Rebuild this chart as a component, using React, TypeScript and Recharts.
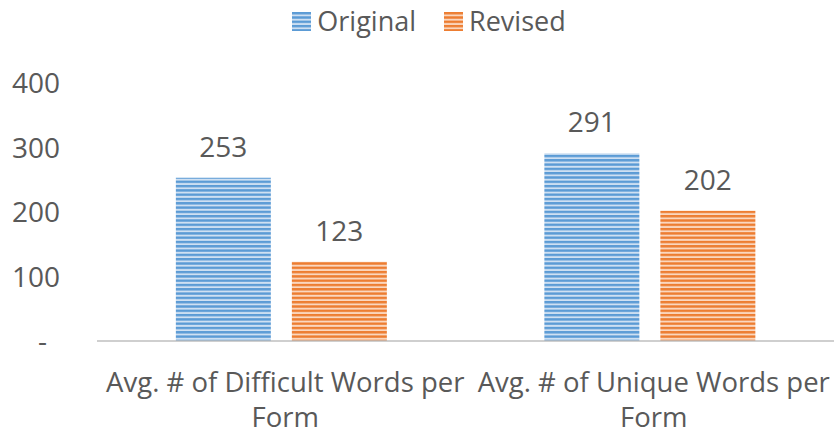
import React from "react";
import { BarChart, Bar, XAxis, YAxis, LabelList } from "recharts";

const categories = ["Avg. # of Difficult Words per Form", "Avg. # of Unique Words per Form"];
const originalValues = [253, 291];
const revisedValues = [123, 202];
const yTicks = [0, 100, 200, 300, 400];

const data = categories.map((name, i) => ({
  name,
  original: originalValues[i],
  revised: revisedValues[i],
}));

const TEXT = "#595959";
const FONT = "'Open Sans', sans-serif";

const YTick = ({ y, payload }: any) => {
  const v = payload.value;
  if (v === 0) {
    return (
      <text x={38} y={y} dy={10} fill={TEXT} fontSize={28} fontFamily={FONT}>
        -
      </text>
    );
  }
  return (
    <text x={12} y={y} dy={10} fill={TEXT} fontSize={28} fontFamily={FONT}>
      {v}
    </text>
  );
};

const XTick = ({ x, y, payload }: any) => {
  const words = String(payload.value).split(" ");
  const first = words.slice(0, -1).join(" ");
  const last = words[words.length - 1];
  const cx = x + 4;
  return (
    <text x={cx} y={y} fill={TEXT} fontSize={27.5} fontFamily={FONT} textAnchor="middle">
      <tspan x={cx} dy={43}>{first}</tspan>
      <tspan x={cx} dy={35}>{last}</tspan>
    </text>
  );
};

const LegendItem = ({ label, fill }: { label: string; fill: string }) => (
  <span style={{ display: "flex", alignItems: "center", gap: 6 }}>
    <svg width={19} height={19}>
      <rect width={19} height={19} fill={fill} />
    </svg>
    {label}
  </span>
);

export default function App() {
  return (
    <div style={{ position: "absolute", left: 0, top: 0, width: 834, height: 435, background: "#fff" }}>
      <BarChart
        width={834}
        height={435}
        data={data}
        margin={{ top: 83, right: 0, bottom: 64, left: 0 }}
        barCategoryGap="21.4%"
        barGap={21}
      >
        <defs>
          <pattern id="stripeBlue" width={8} height={4.3} patternUnits="userSpaceOnUse">
            <rect width={8} height={4.3} fill="#cfe0f2" />
            <rect width={8} height={2.4} fill="#5b9bd5" />
          </pattern>
          <pattern id="stripeOrange" width={8} height={4.3} patternUnits="userSpaceOnUse">
            <rect width={8} height={4.3} fill="#fad7bf" />
            <rect width={8} height={2.4} fill="#ed7d31" />
          </pattern>
        </defs>
        <XAxis
          dataKey="name"
          height={30}
          tick={<XTick />}
          tickLine={false}
          axisLine={{ stroke: "#bfbfbf", strokeWidth: 1.5 }}
          interval={0}
        />
        <YAxis
          width={97}
          domain={[0, 400]}
          ticks={yTicks}
          tick={<YTick />}
          tickLine={false}
          axisLine={false}
        />
        <Bar dataKey="original" name="Original" fill="url(#stripeBlue)" isAnimationActive={false}>
          <LabelList dataKey="original" position="top" offset={21} fill={TEXT} fontSize={28} fontFamily={FONT} />
        </Bar>
        <Bar dataKey="revised" name="Revised" fill="url(#stripeOrange)" isAnimationActive={false}>
          <LabelList dataKey="revised" position="top" offset={21} fill={TEXT} fontSize={28} fontFamily={FONT} />
        </Bar>
      </BarChart>
      <div
        style={{
          position: "absolute",
          left: 0,
          top: 2,
          width: 858,
          display: "flex",
          justifyContent: "center",
          gap: 28,
          fontFamily: FONT,
          fontSize: 27,
          color: TEXT,
          lineHeight: "38px",
        }}
      >
        <LegendItem label="Original" fill="url(#stripeBlue)" />
        <LegendItem label="Revised" fill="url(#stripeOrange)" />
      </div>
    </div>
  );
}
